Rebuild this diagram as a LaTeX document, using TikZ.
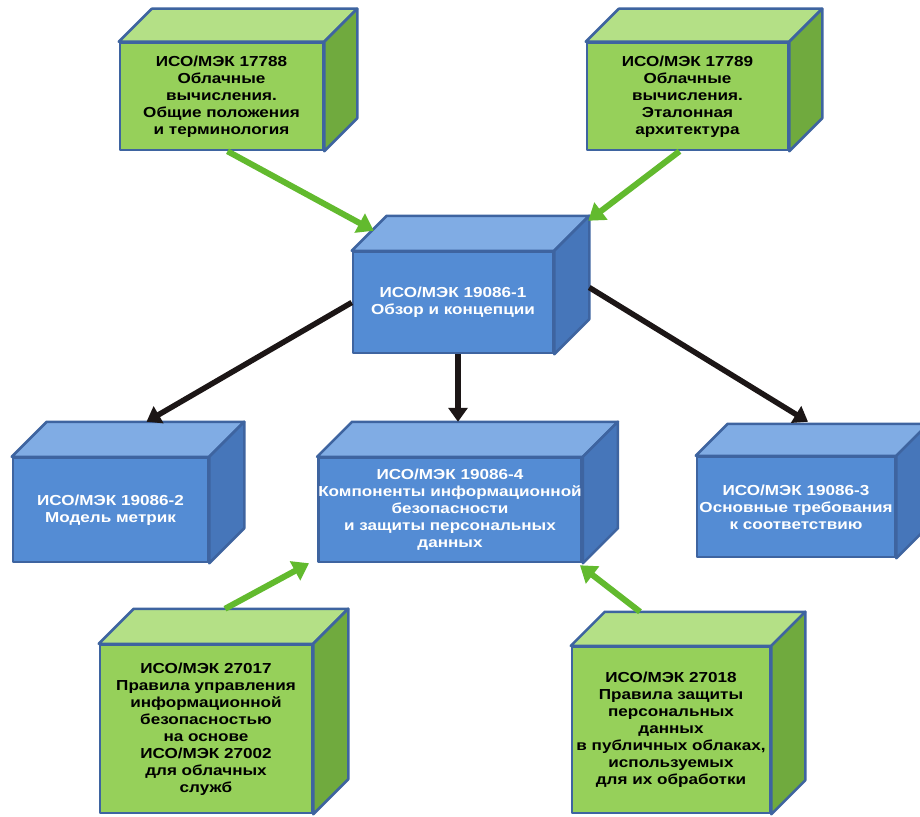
\documentclass[tikz,border=0pt]{standalone}
\usepackage{fontspec}
\newfontfamily\boxfont{Liberation Sans}[FakeStretch=1.18]
\usetikzlibrary{calc,arrows.meta}
\definecolor{gfront}{RGB}{150,208,90}
\definecolor{gtop}{RGB}{180,224,134}
\definecolor{gside}{RGB}{112,170,62}
\definecolor{bfront}{RGB}{84,140,212}
\definecolor{btop}{RGB}{128,172,228}
\definecolor{bside}{RGB}{70,118,186}
\definecolor{edgecol}{RGB}{62,100,160}
\definecolor{garrow}{RGB}{98,186,46}
\definecolor{karrow}{RGB}{28,22,22}
\tikzset{
 face/.style={draw=edgecol, line width=2.5pt, line join=round},
 frontbox/.style={face, inner sep=0pt, align=center, font=\boxfont\bfseries\fontsize{14.5}{17}\selectfont},
 greenbox/.style={frontbox, fill=gfront, text=black},
 bluebox/.style={frontbox, fill=bfront, text=white},
 garr/.style={draw=garrow, line width=6pt, -{Triangle[width=21pt,length=16pt]}},
 karr/.style={draw=karrow, line width=5.5pt, -{Triangle[width=19pt,length=14pt]}},
}
\newcommand\cubesides[4]{%
 \draw[face, fill=#3] (#1.north west) -- ++(#2,-#2) -- ($(#1.north east)+(#2,-#2)$) -- (#1.north east) -- cycle;
 \draw[face, fill=#4] (#1.north east) -- ++(#2,-#2) -- ($(#1.south east)+(#2,-#2)$) -- (#1.south east) -- cycle;
}
\begin{document}
\begin{tikzpicture}[x=1pt,y=-1pt]
\clip (0,0) rectangle (920,816);
\fill[white] (0,0) rectangle (920,816);
% boxes
\node[greenbox, minimum width=203pt, minimum height=107pt] (b1) at (221.5,96.5)
 {ИСО/МЭК 17788\\Облачные\\вычисления.\\Общие положения\\и терминология};
\cubesides{b1}{33}{gtop}{gside}
\node[greenbox, minimum width=201pt, minimum height=107pt] (b2) at (687.5,96.5)
 {ИСО/МЭК 17789\\Облачные\\вычисления.\\Эталонная\\архитектура};
\cubesides{b2}{33}{gtop}{gside}
\node[bluebox, minimum width=200pt, minimum height=101pt] (b3) at (453,302.5)
 {ИСО/МЭК 19086-1\\Обзор и концепции};
\cubesides{b3}{35}{btop}{bside}
\node[bluebox, minimum width=195pt, minimum height=104pt] (b4) at (110.5,510)
 {ИСО/МЭК 19086-2\\Модель метрик};
\cubesides{b4}{35}{btop}{bside}
\node[bluebox, minimum width=260pt, minimum height=104pt] (b5) at (450,510)
 {ИСО/МЭК 19086-4\\Компоненты информационной\\безопасности\\и защиты персональных\\данных};
\cubesides{b5}{35}{btop}{bside}
\node[bluebox, minimum width=198pt, minimum height=100pt] (b6) at (796,507)
 {ИСО/МЭК 19086-3\\Основные требования\\к соответствию};
\cubesides{b6}{32}{btop}{bside}
\node[greenbox, minimum width=212pt, minimum height=168pt] (b7) at (206,729)
 {ИСО/МЭК 27017\\Правила управления\\информационной\\безопасностью\\на основе\\ИСО/МЭК 27002\\для облачных\\служб};
\cubesides{b7}{35}{gtop}{gside}
\node[greenbox, minimum width=198pt, minimum height=166pt] (b8) at (671,730)
 {ИСО/МЭК 27018\\Правила защиты\\персональных\\данных\\в публичных облаках,\\используемых\\для их обработки};
\cubesides{b8}{34}{gtop}{gside}
% arrows
\draw[garr] ($(b1.south)+(6,0)$) -- ($(b3.north west)+(22,-20)$);
\draw[garr] ($(b2.south)+(-8,0)$) -- ($(b3.north east)+(34,-30)$);
\draw[karr] (b3.west) -- ($(b4.north)+(36,-35)$);
\draw[karr] ($(b3.south)+(5,0)$) -- ($(b5.north)+(8,-35)$);
\draw[karr] ($(b3.east)+(35,-15)$) -- ($(b6.north)+(12,-34)$);
\draw[garr] ($(b7.north)+(19,-35)$) -- ($(b5.south west)+(-8,0)$);
\draw[garr] ($(b8.north)+(-31,-34)$) -- ($(b5.south east)+(-3,2)$);
\end{tikzpicture}
\end{document}
